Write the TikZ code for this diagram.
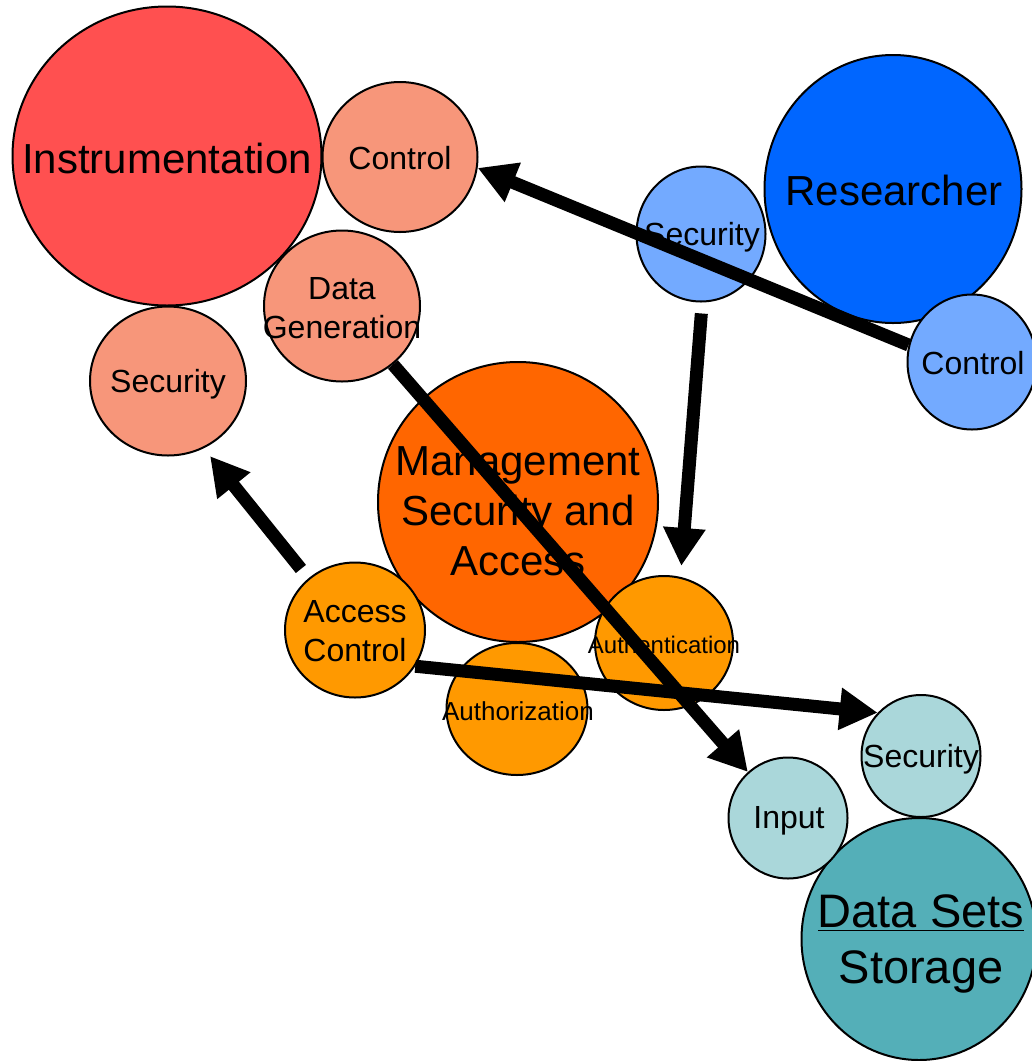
\documentclass[tikz,border=0pt]{standalone}
\usepackage{fontspec}
\setmainfont{Liberation Sans}
\usetikzlibrary{shapes.geometric, arrows.meta, calc}
\definecolor{InstrMain}{RGB}{255,80,80}
\definecolor{InstrSub}{RGB}{247,150,122}
\definecolor{ResMain}{RGB}{0,102,255}
\definecolor{ResSub}{RGB}{115,170,255}
\definecolor{MgmtMain}{RGB}{255,102,0}
\definecolor{MgmtSub}{RGB}{255,153,0}
\definecolor{DataMain}{RGB}{84,175,184}
\definecolor{DataSub}{RGB}{170,215,218}

\tikzset{
  bubble/.style={ellipse, draw=black, line width=1pt, inner sep=0pt},
  bigtxt/.style={font=\fontsize{21}{25}\selectfont, align=center, inner sep=0pt},
  smalltxt/.style={font=\fontsize{16}{19.5}\selectfont, align=center, inner sep=0pt},
  tinytxt/.style={font=\fontsize{12.5}{15}\selectfont, align=center, inner sep=0pt},
  flow/.style={line width=6.5pt, -{Triangle[length=19pt,width=20pt]}},
}

\begin{document}
\begin{tikzpicture}[x=0.5pt, y=-0.5pt]
\useasboundingbox (0,0) rectangle (1032,1061);

% Instrumentation
\node[bubble, fill=InstrMain, minimum width=154.5pt, minimum height=149.5pt] (instr) at (167,156) {};
\node[bubble, fill=InstrSub, minimum width=77.5pt, minimum height=75pt] (ictrl) at (400,157) {};
\node[bubble, fill=InstrSub, minimum width=78pt, minimum height=75.5pt] (igen) at (342,306) {};
\node[bubble, fill=InstrSub, minimum width=78pt, minimum height=74.5pt] (isec) at (168,381) {};

% Researcher
\node[bubble, fill=ResMain, minimum width=128.5pt, minimum height=134pt] (res) at (893,189) {};
\node[bubble, fill=ResSub, minimum width=64.5pt, minimum height=67.5pt] (rsec) at (701,234) {};
\node[bubble, fill=ResSub, minimum width=64.5pt, minimum height=67.5pt] (rctrl) at (972,362) {};

% Management
\node[bubble, fill=MgmtMain, minimum width=140pt, minimum height=140pt] (mgmt) at (518,502) {};
\node[bubble, fill=MgmtSub, minimum width=70pt, minimum height=67.5pt] (acc) at (355,630) {};
\node[bubble, fill=MgmtSub, minimum width=70.5pt, minimum height=66pt] (authz) at (517,709) {};
\node[bubble, fill=MgmtSub, minimum width=69pt, minimum height=67pt] (authn) at (664,643) {};

% Data sets
\node[bubble, fill=DataMain, minimum width=117.5pt, minimum height=121pt] (dsets) at (919,939) {};
\node[bubble, fill=DataSub, minimum width=59.5pt, minimum height=60.5pt] (input) at (788,818) {};
\node[bubble, fill=DataSub, minimum width=59.5pt, minimum height=61pt] (dsec) at (921,756) {};

% labels
\node[bigtxt] (instrT) at (167,158) {Instrumentation};
\node[smalltxt] (ictrlT) at (400,158) {Control};
\node[smalltxt] (igenT) at (342,308) {Data\\Generation};
\node[smalltxt] (isecT) at (168,384) {Security};
\node[bigtxt] (resT) at (894,190) {Researcher};
\node[smalltxt] (rsecT) at (702,237) {Security};
\node[smalltxt] (rctrlT) at (973,363) {Control};
\node[bigtxt] (mgmtT) at (518,511) {Management\\Security and\\Access};
\node[smalltxt] (accT) at (355,631) {Access\\Control};
\node[tinytxt, font=\fontsize{13}{15}\selectfont] (authzT) at (518,711) {Authorization};
\node[tinytxt, font=\fontsize{12}{15}\selectfont] (authnT) at (664,645) {Authentication};
\node[smalltxt] (inputT) at (789,821) {Input};
\node[smalltxt] (dsecT) at (921,759) {Security};
\node[font=\fontsize{23.5}{28}\selectfont, align=center, inner sep=0pt] (dsetsT) at (921,944) {\underline{Data Sets}\\Storage};

% arrows
\draw[flow] (rctrl.165) -- (ictrl.-8);
\draw[flow, shorten <=5.5pt, shorten >=5.5pt] (rsec.-89) -- (authn.76);
\draw[flow] (igen) -- (input);
\draw[flow, shorten <=6pt, shorten >=5pt] (acc.132) -- (isec.-62);
\draw[flow] (acc.-31) -- (dsec.135);
\end{tikzpicture}
\end{document}
